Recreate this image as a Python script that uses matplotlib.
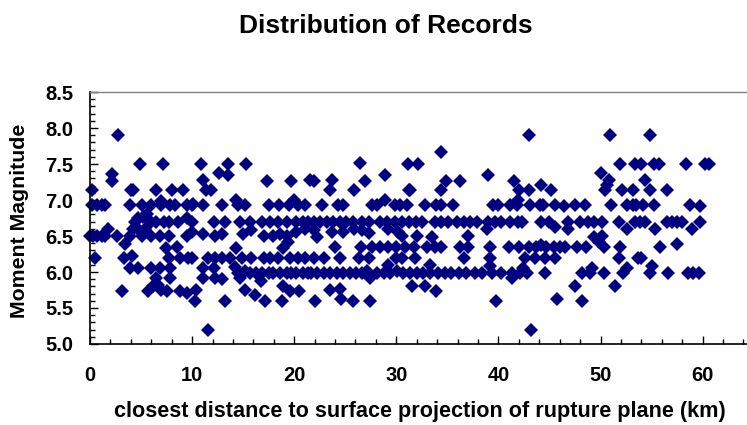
import matplotlib
matplotlib.use("Agg")
import matplotlib.pyplot as plt
from matplotlib.ticker import MultipleLocator, FormatStrFormatter

plt.rcParams['font.family'] = ['Liberation Sans', 'DejaVu Sans']
plt.rcParams['font.weight'] = 'bold'

# ---- data (closest distance in km, moment magnitude) ----
dist_a = [2.77, 4.9, 7.18, 10.9, 2.12, 2.12, 0.17, 4.0, 4.2, 6.5, 8.0, 9.1,
          0.17, 0.65, 1.14, 1.47, 3.9, 5.1, 6.0, 7.0, 7.8, 8.3, 9.5, 9.96, 7.0,
          5.55, 5.2, 4.7, 4.4, 6.0, 6.5, 7.2, 7.7, 8.65, 9.5, 10.0,
          1.8, 4.2, 4.7, 5.4,
          0.0, 0.3, 0.7, 1.2, 1.5, 2.6, 3.9, 5.1, 6.0, 6.9, 7.7, 9.5,
          3.4, 7.4, 8.5,
          0.49, 3.3, 4.1, 7.7, 8.8, 9.6, 9.96,
          3.9, 4.7, 6.0, 6.9, 7.8,
          6.5, 7.8,
          3.1, 5.7, 6.2, 6.7, 7.0, 7.5, 8.8, 9.5, 10.4, 10.3]
mag_a = [7.9, 7.5, 7.5, 7.5, 7.36, 7.27, 7.14, 7.14, 7.14, 7.14, 7.14, 7.14,
         6.93, 6.93, 6.93, 6.93, 6.93, 6.93, 6.93, 6.93, 6.93, 6.93, 6.93, 6.93, 6.98,
         6.81, 6.77, 6.75, 6.7, 6.7, 6.7, 6.7, 6.7, 6.7, 6.75, 6.7,
         6.6, 6.6, 6.6, 6.6,
         6.5, 6.5, 6.5, 6.5, 6.5, 6.5, 6.5, 6.5, 6.5, 6.5, 6.5, 6.5,
         6.39, 6.33, 6.35,
         6.19, 6.19, 6.22, 6.19, 6.19, 6.19, 6.19,
         6.05, 6.05, 6.05, 6.05, 6.05,
         5.91, 5.91,
         5.73, 5.73, 5.8, 5.82, 5.75, 5.73, 5.73, 5.71, 5.75, 5.6]

dist_b = [11.6, 13.5, 15.3, 12.6, 13.5, 11.1, 17.3, 19.7, 21.5, 11.4, 11.9,
          10.1, 11.1, 12.9, 14.5, 15.2, 17.5, 18.5, 19.5, 20.4, 21.1, 14.3, 20.0,
          12.1, 13.2, 14.7, 15.7, 16.8, 17.6, 18.4, 19.3, 20.2, 20.9, 21.4,
          10.0, 11.1, 12.2, 12.9, 15.0, 15.8, 17.0, 17.9, 18.6, 19.3, 20.2, 21.1,
          14.3, 19.4, 18.9,
          11.6, 12.2, 12.9, 13.7, 14.9, 15.8, 17.0, 17.6, 18.4, 19.6, 20.4, 21.1,
          11.1, 12.1, 14.2, 14.5, 15.2, 15.7, 16.3, 16.8, 17.5, 17.9, 18.6, 19.3,
          19.7, 20.2, 20.9, 21.4,
          14.7, 11.1, 12.2, 12.9, 16.7, 18.9, 15.2, 19.6, 20.5,
          13.2, 16.2, 17.1, 18.8]
mag_b = [5.2, 7.5, 7.5, 7.37, 7.35, 7.28, 7.27, 7.27, 7.28, 7.14, 7.14,
         6.95, 6.93, 6.93, 6.93, 6.93, 6.93, 6.93, 6.93, 6.93, 6.93, 7.0, 7.0,
         6.7, 6.7, 6.7, 6.7, 6.7, 6.7, 6.7, 6.7, 6.7, 6.7, 6.7,
         6.55, 6.53, 6.5, 6.53, 6.53, 6.58, 6.5, 6.5, 6.53, 6.5, 6.55, 6.6,
         6.33, 6.42, 6.33,
         6.19, 6.19, 6.19, 6.19, 6.19, 6.19, 6.19, 6.19, 6.19, 6.19, 6.19, 6.19,
         6.05, 6.05, 6.07, 5.99, 6.01, 5.98, 5.98, 5.98, 5.98, 5.98, 5.98, 5.98,
         5.98, 5.98, 5.98, 5.98,
         5.92, 5.92, 5.92, 5.9, 5.87, 5.8, 5.75, 5.73, 5.73,
         5.6, 5.68, 5.6, 5.6]

dist_c = [26.4, 31.1, 32.1, 21.9, 23.7, 23.5, 26.9, 25.9, 28.9, 31.2,
          22.7, 24.3, 24.8, 27.6, 28.1, 29.9, 30.4, 31.0, 28.9,
          21.9, 22.5, 23.2, 23.8, 24.5, 25.1, 25.8, 26.6, 27.3, 28.4, 29.1, 29.9,
          30.6, 31.2, 31.9,
          21.9, 22.2, 23.7, 24.8, 25.9, 26.6, 27.3, 29.2, 30.2, 30.6,
          24.0, 26.5, 27.6, 28.4, 29.2, 30.0, 30.9,
          21.9, 22.9, 24.5, 26.3, 27.3, 29.2, 30.0, 30.6,
          21.6, 22.2, 22.9, 23.5, 24.2, 24.8, 25.5, 26.1, 26.6, 27.1, 27.4, 28.1,
          28.8, 29.4, 30.1, 30.7,
          22.0, 23.5, 24.5, 24.6, 25.8, 27.4]
mag_c = [7.52, 7.5, 7.5, 7.27, 7.28, 7.14, 7.27, 7.14, 7.35, 7.14,
         6.93, 6.93, 6.93, 6.93, 6.93, 6.93, 6.93, 6.93, 7.0,
         6.7, 6.7, 6.7, 6.7, 6.7, 6.7, 6.7, 6.7, 6.7, 6.7, 6.7, 6.7,
         6.7, 6.7, 6.7,
         6.58, 6.49, 6.55, 6.55, 6.6, 6.58, 6.54, 6.6, 6.55, 6.5,
         6.35, 6.35, 6.35, 6.35, 6.35, 6.35, 6.35,
         6.19, 6.19, 6.19, 6.19, 6.19, 6.1, 6.19, 6.19,
         5.98, 5.98, 5.98, 5.98, 5.98, 5.98, 5.98, 5.98, 5.98, 6.02, 5.92, 5.98,
         5.98, 5.98, 6.02, 5.98,
         5.6, 5.75, 5.77, 5.63, 5.6, 5.6]

dist_d = [43.0, 34.4, 34.9, 36.2, 34.4, 39.0, 41.5, 42.0, 43.0, 31.3,
          32.8, 33.9, 34.4, 35.6, 39.5, 40.0, 41.1, 41.8, 43.1, 41.9,
          32.5, 33.8, 34.4, 35.1, 35.9, 36.6, 37.2, 37.9, 39.0, 39.7, 40.3, 41.1,
          41.9, 42.3, 38.9,
          32.0, 33.5, 37.0,
          31.7, 33.0, 33.8, 34.4, 36.2, 37.0, 39.2, 41.0, 42.0, 43.0,
          31.8, 36.6, 39.2, 42.6,
          31.3, 32.0, 32.6, 33.3, 34.1, 34.8, 35.4, 36.1, 36.8, 37.7, 38.4, 39.4,
          40.3, 41.3, 42.1, 42.8, 33.3, 39.2, 41.3, 42.4,
          31.5, 32.8, 33.9, 39.8, 43.2]
mag_d = [7.9, 7.67, 7.27, 7.27, 7.14, 7.35, 7.27, 7.14, 7.14, 7.14,
         6.93, 6.93, 6.93, 6.93, 6.93, 6.93, 6.93, 6.93, 6.93, 7.0,
         6.7, 6.7, 6.7, 6.7, 6.7, 6.7, 6.7, 6.7, 6.7, 6.7, 6.7, 6.7,
         6.7, 6.7, 6.6,
         6.5, 6.49, 6.5,
         6.35, 6.35, 6.35, 6.35, 6.35, 6.35, 6.35, 6.35, 6.35, 6.35,
         6.19, 6.19, 6.19, 6.19,
         5.98, 5.98, 5.98, 5.98, 5.98, 5.98, 5.98, 5.98, 5.98, 5.98, 5.98, 5.98,
         5.98, 5.98, 5.98, 5.98, 6.1, 6.08, 5.92, 6.05,
         5.8, 5.8, 5.73, 5.6, 5.2]

dist_e = [50.9, 51.9, 50.0, 50.8, 50.6, 50.4, 44.2, 45.2, 52.1,
          44.1, 44.4, 45.5, 46.4, 47.5, 48.5, 51.0, 52.6, 53.2,
          44.2, 45.0, 45.5, 46.8, 46.8, 48.0, 48.8, 49.4, 50.1, 51.8, 52.6,
          49.4, 49.9, 50.3, 50.1,
          43.7, 44.2, 44.7, 45.4, 46.0, 46.5, 47.7, 48.6, 51.9,
          43.6, 44.6, 45.5, 51.8, 53.7,
          44.6, 48.2, 49.2, 49.0, 50.3, 52.2, 52.6,
          47.5, 51.4, 45.7, 48.2]
mag_e = [7.9, 7.5, 7.37, 7.28, 7.21, 7.14, 7.21, 7.14, 7.14,
         6.93, 6.93, 6.93, 6.91, 6.93, 6.93, 6.93, 6.93, 6.93,
         6.7, 6.7, 6.63, 6.7, 6.6, 6.7, 6.7, 6.7, 6.7, 6.7, 6.6,
         6.49, 6.42, 6.35, 6.5,
         6.35, 6.37, 6.35, 6.35, 6.35, 6.35, 6.35, 6.35, 6.35,
         6.19, 6.19, 6.19, 6.19, 6.19,
         5.98, 5.98, 6.06, 5.98, 5.98, 5.98, 6.06,
         5.8, 5.8, 5.63, 5.6]

dist_f = [54.8, 53.4, 54.0, 55.2, 55.7, 58.4, 60.2, 60.6,
          54.4, 53.2, 54.8, 56.5,
          53.5, 54.2, 55.2, 58.8, 59.7,
          53.4, 53.9, 54.4, 55.3, 56.5, 57.0, 57.5, 58.0, 59.0, 59.7,
          55.8, 57.5, 54.0, 55.0,
          54.8, 56.6, 58.6, 59.1, 59.6]
mag_f = [7.9, 7.5, 7.5, 7.5, 7.5, 7.5, 7.5, 7.5,
         7.28, 7.14, 7.14, 7.14,
         6.93, 6.93, 6.93, 6.93, 6.91,
         6.7, 6.7, 6.7, 6.6, 6.7, 6.7, 6.7, 6.7, 6.6, 6.7,
         6.35, 6.39, 6.19, 6.08,
         5.98, 5.98, 5.98, 5.98, 5.98]

distance_km = dist_a + dist_b + dist_c + dist_d + dist_e + dist_f
magnitude = mag_a + mag_b + mag_c + mag_d + mag_e + mag_f

x_ticks = [0, 10, 20, 30, 40, 50, 60]
y_ticks = [5.0, 5.5, 6.0, 6.5, 7.0, 7.5, 8.0, 8.5]

title = "Distribution of Records"
x_label = "closest distance to surface projection of rupture plane (km)"
y_label = "Moment Magnitude"

# ---- figure ----
W, H = 747, 425
fig = plt.figure(figsize=(W / 100, H / 100), dpi=100)
ax = fig.add_axes([90 / W, 1 - 344 / H, 65 * 10.21 / W, (344 - 92) / H])

ax.plot(distance_km, magnitude, linestyle='none', marker='D', ms=7.5,
        color='#000080', mec='#000080', mew=0, clip_on=False)

ax.set_xlim(0, 65)
ax.set_ylim(5.0, 8.5)
ax.set_xticks(x_ticks)
ax.set_yticks(y_ticks)
ax.xaxis.set_minor_locator(MultipleLocator(2))
ax.yaxis.set_minor_locator(MultipleLocator(0.1))
ax.yaxis.set_major_formatter(FormatStrFormatter('%.1f'))
ax.tick_params(which='major', direction='in', length=6, width=1, labelsize=14.5)
ax.tick_params(which='minor', direction='in', length=3.5, width=1)
ax.tick_params(axis='x', which='major', pad=16)
ax.tick_params(axis='y', which='major', pad=12)
for lbl in ax.get_xticklabels() + ax.get_yticklabels():
    lbl.set_fontweight('bold')

ax.spines['top'].set_color('#808080')
ax.spines['top'].set_linewidth(1)
ax.spines['right'].set_visible(False)
ax.spines['left'].set_linewidth(1.2)
ax.spines['bottom'].set_linewidth(1.2)

fig.text(386 / W, 1 - 26 / H, title, ha='center', va='center',
         fontsize=19, fontweight='bold')
fig.text(420 / W, 1 - 411 / H, x_label, ha='center', va='center',
         fontsize=15.6, fontweight='bold')
fig.text(20 / W, 1 - 221 / H, y_label, ha='center', va='center',
         rotation=90, fontsize=15.3, fontweight='bold')

fig.savefig('out.png', dpi=100)
